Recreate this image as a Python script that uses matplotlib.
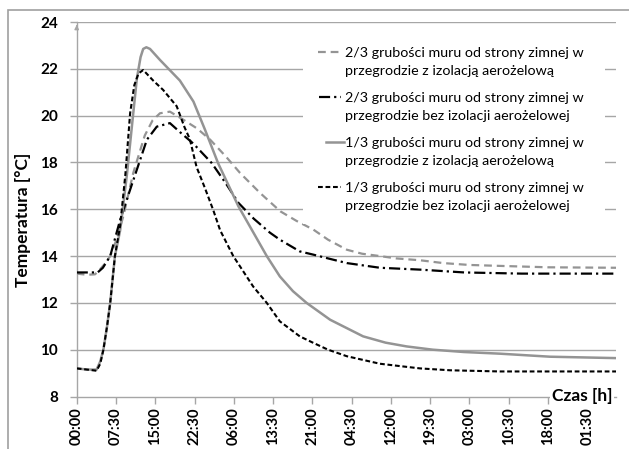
import matplotlib
matplotlib.use("Agg")
import matplotlib.pyplot as plt
from matplotlib.patches import Rectangle
from matplotlib.lines import Line2D

plt.rcParams['font.family'] = ['Lato', 'DejaVu Sans']

# time in hours, temperature in deg C
t_a = [0, 2, 3.5, 4.4, 5.5, 6.4, 7.6, 8.9, 10.8, 13.0, 14.5, 15.9, 17.8, 20.4, 23.0,
       25.5, 28.5, 31.2, 35, 38.9, 42, 45.2, 48, 51.6, 54.5, 57.9, 61, 65.6, 70, 75,
       80.8, 90, 103]
temp_a = [13.25, 13.2, 13.22, 13.42, 13.7, 14.0, 14.7, 15.7, 17.55, 19.15, 19.8, 20.1,
          20.17, 19.82, 19.45, 18.97, 18.25, 17.55, 16.7, 15.91, 15.5, 15.13, 14.7, 14.27,
          14.1, 14.0, 13.9, 13.82, 13.7, 13.62, 13.58, 13.52, 13.5]

t_b = [0, 2, 4, 5, 6.4, 8.3, 10, 12.1, 13.4, 15.3, 17.8, 19.7, 22.3, 25.8, 28.5, 30.9,
       33.8, 36.9, 38.8, 42.6, 45.2, 48, 51.6, 57.9, 65.6, 74, 85, 103]
temp_b = [13.3, 13.3, 13.3, 13.5, 14.0, 15.55, 16.7, 18.1, 18.97, 19.53, 19.68, 19.3,
          18.8, 17.97, 17.1, 16.27, 15.6, 15.0, 14.7, 14.2, 14.06, 13.9, 13.7, 13.5,
          13.42, 13.3, 13.25, 13.25]

t_c = [0, 2, 3.8, 4.5, 5.1, 5.8, 6.4, 7.3, 8.3, 9.6, 10.8, 11.5, 12.2, 12.7, 13.3, 14.0,
       15.9, 19.7, 22.3, 24.5, 27.0, 30.9, 33.5, 36.3, 38.8, 41.3, 43.9, 48.4, 54.7, 59,
       63.0, 68, 74, 80.8, 90.4, 103]
temp_c = [9.2, 9.15, 9.15, 9.5, 10.0, 11.0, 12.0, 14.0, 15.1, 17.5, 20.1, 21.6, 22.5,
          22.85, 22.92, 22.85, 22.38, 21.5, 20.6, 19.4, 17.97, 16.12, 15.1, 14.0, 13.13,
          12.5, 12.0, 11.28, 10.57, 10.3, 10.14, 10.0, 9.9, 9.83, 9.7, 9.64]

t_d = [0, 2, 3.8, 4.5, 5.1, 5.8, 6.4, 7.3, 8.3, 9.3, 10.2, 11.0, 11.8, 12.7, 14.6, 16.5,
       17.8, 19.1, 20.6, 21.6, 22.9, 24.5, 26.1, 27.4, 29.9, 33.7, 36.3, 38.8, 42.6,
       45.2, 48, 51.6, 57.9, 61.7, 65.6, 71.3, 80.8, 103]
temp_d = [9.2, 9.15, 9.1, 9.4, 10.0, 11.0, 12.0, 14.0, 15.3, 17.5, 20.1, 21.3, 21.8,
          21.95, 21.5, 21.1, 20.75, 20.4, 19.5, 19.0, 17.8, 16.9, 15.95, 15.1, 14.0,
          12.7, 12.0, 11.21, 10.57, 10.29, 10.0, 9.72, 9.4, 9.3, 9.2, 9.12, 9.07, 9.07]

labels = ['2/3 grubości muru od strony zimnej w\nprzegrodzie z izolacją aerożelową',
          '2/3 grubości muru od strony zimnej w\nprzegrodzie bez izolacji aerożelowej',
          '1/3 grubości muru od strony zimnej w\nprzegrodzie z izolacją aerożelową',
          '1/3 grubości muru od strony zimnej w\nprzegrodzie bez izolacji aerożelowej']

tick_hours = [i * 7.5 for i in range(14)]
tick_labels = ['00:00', '07:30', '15:00', '22:30', '06:00', '13:30', '21:00',
               '04:30', '12:00', '19:30', '03:00', '10:30', '18:00', '01:30']
y_ticks = [8, 10, 12, 14, 16, 18, 20, 22, 24]

gray = '#949494'
gridc = '#a6a6a6'

fig = plt.figure(figsize=(6.29, 4.49), dpi=100)
ax = fig.add_axes([76.7 / 629, 1 - 396.5 / 449, 539.3 / 629, 374.5 / 449])

# outer chart border
fig.patches.append(Rectangle((8 / 629, -0.1), 1.2, 0.1 + 1 - 10 / 449,
                             transform=fig.transFigure, fill=False,
                             edgecolor='#a0a0a0', linewidth=1.2))

styles = [dict(color=gray, lw=1.6, dashes=(3.5, 2.2)),
          dict(color='black', lw=1.6, dashes=(5, 1.8, 1, 1.8)),
          dict(color=gray, lw=1.8),
          dict(color='black', lw=1.5, dashes=(2.3, 1.3))]
series = [(t_a, temp_a), (t_b, temp_b), (t_c, temp_c), (t_d, temp_d)]
for (tt, vv), st in zip(series, styles):
    ax.plot(tt, vv, zorder=3, **st)

ax.set_xlim(0, 103)
ax.set_ylim(8, 24)
ax.set_yticks(y_ticks)
ax.set_yticklabels([str(v) for v in y_ticks], fontweight='bold', fontsize=11)
ax.set_xticks(tick_hours)
ax.set_xticklabels(tick_labels, rotation=90, fontweight='bold', fontsize=10.5)
for yv in y_ticks[1:]:
    ax.axhline(yv, color=gridc, lw=1, zorder=1)
for s in ['top', 'right']:
    ax.spines[s].set_visible(False)
for s in ['left', 'bottom']:
    ax.spines[s].set_color(gridc)
    ax.spines[s].set_linewidth(1)
ax.tick_params(axis='both', colors=gridc, length=5, width=1, labelcolor='black', pad=3)
ax.tick_params(axis='y', pad=8.5)

# arrow on the y axis
ax.annotate('', xy=(0, 1.0), xytext=(0, 0.98), xycoords='axes fraction',
            arrowprops=dict(arrowstyle='-|>', color=gridc, lw=1, mutation_scale=6))

ax.set_ylabel('Temperatura [°C]', fontweight='bold', fontsize=12.5)
ax.yaxis.set_label_coords(-0.0847, 0.472)
ax.text(0.993, 0.0, 'Czas [h]', transform=ax.transAxes, ha='right', va='center',
        fontweight='bold', fontsize=12.5, zorder=5, clip_on=False,
        bbox=dict(facecolor='white', edgecolor='none', pad=1.5))

# legend drawn as a white block over the grid
def ax_x(px):
    return (px - 76.7) / 539.3

def ax_y(py):
    return (396.5 - py) / 374.5

ax.add_patch(Rectangle((ax_x(303), ax_y(224)), ax_x(605) - ax_x(303), ax_y(32) - ax_y(224),
                       transform=ax.transAxes, facecolor='white', edgecolor='none', zorder=4))
handle_x = [(318, 341), (319, 341), (326, 344), (318, 341)]
for i, (lab, st) in enumerate(zip(labels, styles)):
    yc = 51.7 + 45 * i
    x0, x1 = handle_x[i]
    ax.add_line(Line2D([ax_x(x0), ax_x(x1)], [ax_y(yc), ax_y(yc)], transform=ax.transAxes,
                       zorder=5, **st))
    ax.text(ax_x(345), ax_y(yc + 10), lab, transform=ax.transAxes, ha='left', va='center',
            fontsize=10.3, linespacing=1.6, zorder=5)

fig.savefig('out.png', dpi=100)
